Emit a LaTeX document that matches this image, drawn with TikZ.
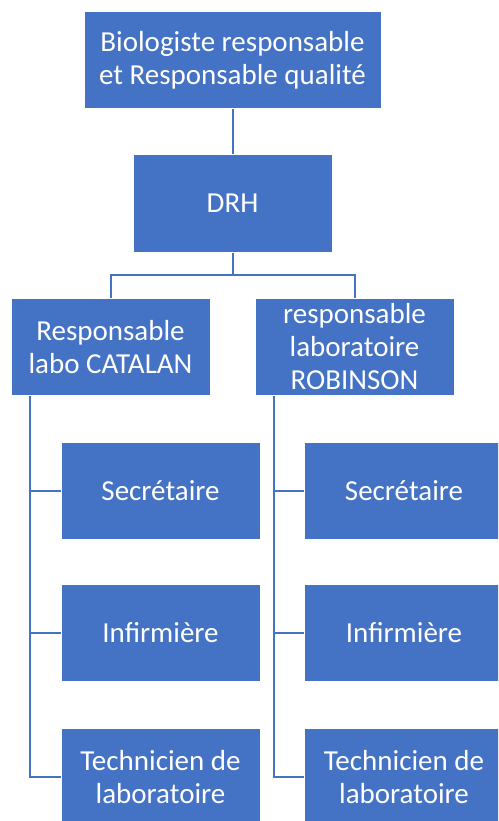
\documentclass[tikz,border=0pt]{standalone}
\usepackage{fontspec}
\setmainfont{Carlito}
\usepackage{tikz}
\usetikzlibrary{positioning,calc}
\definecolor{blue}{HTML}{4472C4}

\begin{document}
\begin{tikzpicture}[
    x=1pt, y=-1pt,
    box/.style={draw=white, line width=1pt, fill=blue, text=white, minimum width=199pt, minimum height=97pt, align=center, inner sep=2pt, font=\fontsize{29}{33}\selectfont},
    link/.style={draw=blue, line width=2pt}
  ]
    \clip (0,0) rectangle (498,821);

    \node[box, minimum width=297pt] (top) at (232.5,60.5) {Biologiste responsable\\et Responsable qualité};
    \node[box] (drh) at (232.5,203.5) {DRH};

    \node[box] (labA) at (110.5,347) {Responsable\\labo CATALAN};
    \node[box] (labB) at (354.5,347) {responsable\\laboratoire\\ROBINSON};

    \node[box] (secA) at (160.5,490.5) {Secrétaire};
    \node[box] (infA) at (160.5,633) {Infirmière};
    \node[box] (techA) at (160.5,777) {Technicien de\\laboratoire};

    \node[box] (secB) at (404,490.5) {Secrétaire};
    \node[box] (infB) at (404,633) {Infirmière};
    \node[box] (techB) at (404,777) {Technicien de\\laboratoire};

    \draw[link] (top) -- (drh);
    \coordinate (split) at ($(drh.south)+(0,22)$);
    \draw[link] (drh) -- (split);
    \draw[link] (split) -| (labA);
    \draw[link] (split) -| (labB);

    \coordinate (stemA) at ($(labA.south west)+(19,0)$);
    \coordinate (stemB) at ($(labB.south west)+(19,0)$);
    \draw[link] (stemA) |- (secA);
    \draw[link] (stemA) |- (infA);
    \draw[link] (stemA) |- (techA);
    \draw[link] (stemB) |- (secB);
    \draw[link] (stemB) |- (infB);
    \draw[link] (stemB) |- (techB);
  \end{tikzpicture}
\end{document}
